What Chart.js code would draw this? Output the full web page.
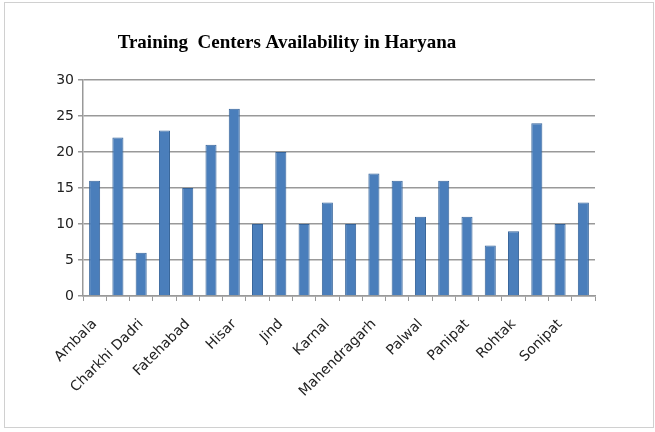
<!DOCTYPE html>
<html>
<head>
<meta charset="utf-8">
<script src="https://cdn.jsdelivr.net/npm/chart.js@4"></script>
<style>
  html, body { margin: 0; padding: 0; background: #fff; }
  #wrap { position: relative; width: 655px; height: 432px; }
  #frame { position: absolute; left: 4px; top: 2px; width: 650px; height: 426px; border: 1px solid #d0d0d0; box-sizing: border-box; pointer-events: none; }
</style>
</head>
<body>
<div id="wrap">
  <canvas id="chart" width="655" height="432"></canvas>
  <div id="frame"></div>
</div>
<script>
// districts of Haryana, alphabetical
const districts = [
  'Ambala', 'Bhiwani', 'Charkhi Dadri', 'Faridabad', 'Fatehabad', 'Gurugram',
  'Hisar', 'Jhajjar', 'Jind', 'Kaithal', 'Karnal', 'Kurukshetra',
  'Mahendragarh', 'Nuh', 'Palwal', 'Panchkula', 'Panipat', 'Rewari',
  'Rohtak', 'Sirsa', 'Sonipat', 'Yamunanagar',
]
// only every other name is printed under the axis
const shownLabels = ['Ambala', 'Charkhi Dadri', 'Fatehabad', 'Hisar', 'Jind', 'Karnal',
  'Mahendragarh', 'Palwal', 'Panipat', 'Rohtak', 'Sonipat']
const centers = [16, 22, 6, 23, 15, 21, 26, 10, 20, 10, 13, 10, 17, 16, 11, 16, 11, 7, 9, 24, 10, 13]
const yTicks = [0, 5, 10, 15, 20, 25, 30]

const chartTitle = 'Training  Centers Availability in Haryana'

const titlePlugin = {
  id: 'titleText',
  afterDraw(chart) {
    const ctx = chart.ctx
    ctx.save()
    ctx.font = 'bold 19px "Liberation Serif", "DejaVu Serif", serif'
    ctx.fillStyle = '#000'
    ctx.textAlign = 'center'
    ctx.textBaseline = 'middle'
    ctx.fillText(chartTitle, 287, 43)
    ctx.restore()
  },
}

const ctx = document.getElementById('chart').getContext('2d')
new Chart(ctx, {
  type: 'bar',
  data: {
    labels: districts,
    datasets: [
      {
        label: 'Series1',
        data: centers,
        backgroundColor: '#4a7ebb',
        borderColor: '#36649a',
        borderWidth: 1,
        barPercentage: 0.95,
        categoryPercentage: 0.5,
      },
    ],
  },
  options: {
    responsive: false,
    animation: false,
    layout: { padding: { top: 80, right: 60, left: 0, bottom: 0 } },
    plugins: {
      legend: { display: false },
      title: { display: false },
      tooltip: { enabled: false },
    },
    scales: {
      x: {
        grid: { drawOnChartArea: false, drawTicks: true, tickLength: 5, color: '#999' },
        border: { color: '#999', width: 1.5 },
        ticks: {
          autoSkip: false,
          maxRotation: 45,
          minRotation: 45,
          padding: 15,
          color: '#222',
          font: { family: '"DejaVu Sans", sans-serif', size: 14 },
          callback: (v, i) => (shownLabels.includes(districts[i]) ? districts[i] : ''),
        },
        afterFit: (scale) => { scale.height = 136 },
      },
      y: {
        min: 0,
        max: 30,
        afterBuildTicks: (scale) => { scale.ticks = yTicks.map((v) => ({ value: v })) },
        grid: { color: '#999', lineWidth: 1.5, tickLength: 5 },
        border: { color: '#999', width: 1.5 },
        ticks: {
          color: '#222',
          padding: 4,
          font: { family: '"DejaVu Sans", sans-serif', size: 14 },
        },
        afterFit: (scale) => { scale.width = 83 },
      },
    },
  },
  plugins: [titlePlugin],
})
</script>
</body>
</html>
